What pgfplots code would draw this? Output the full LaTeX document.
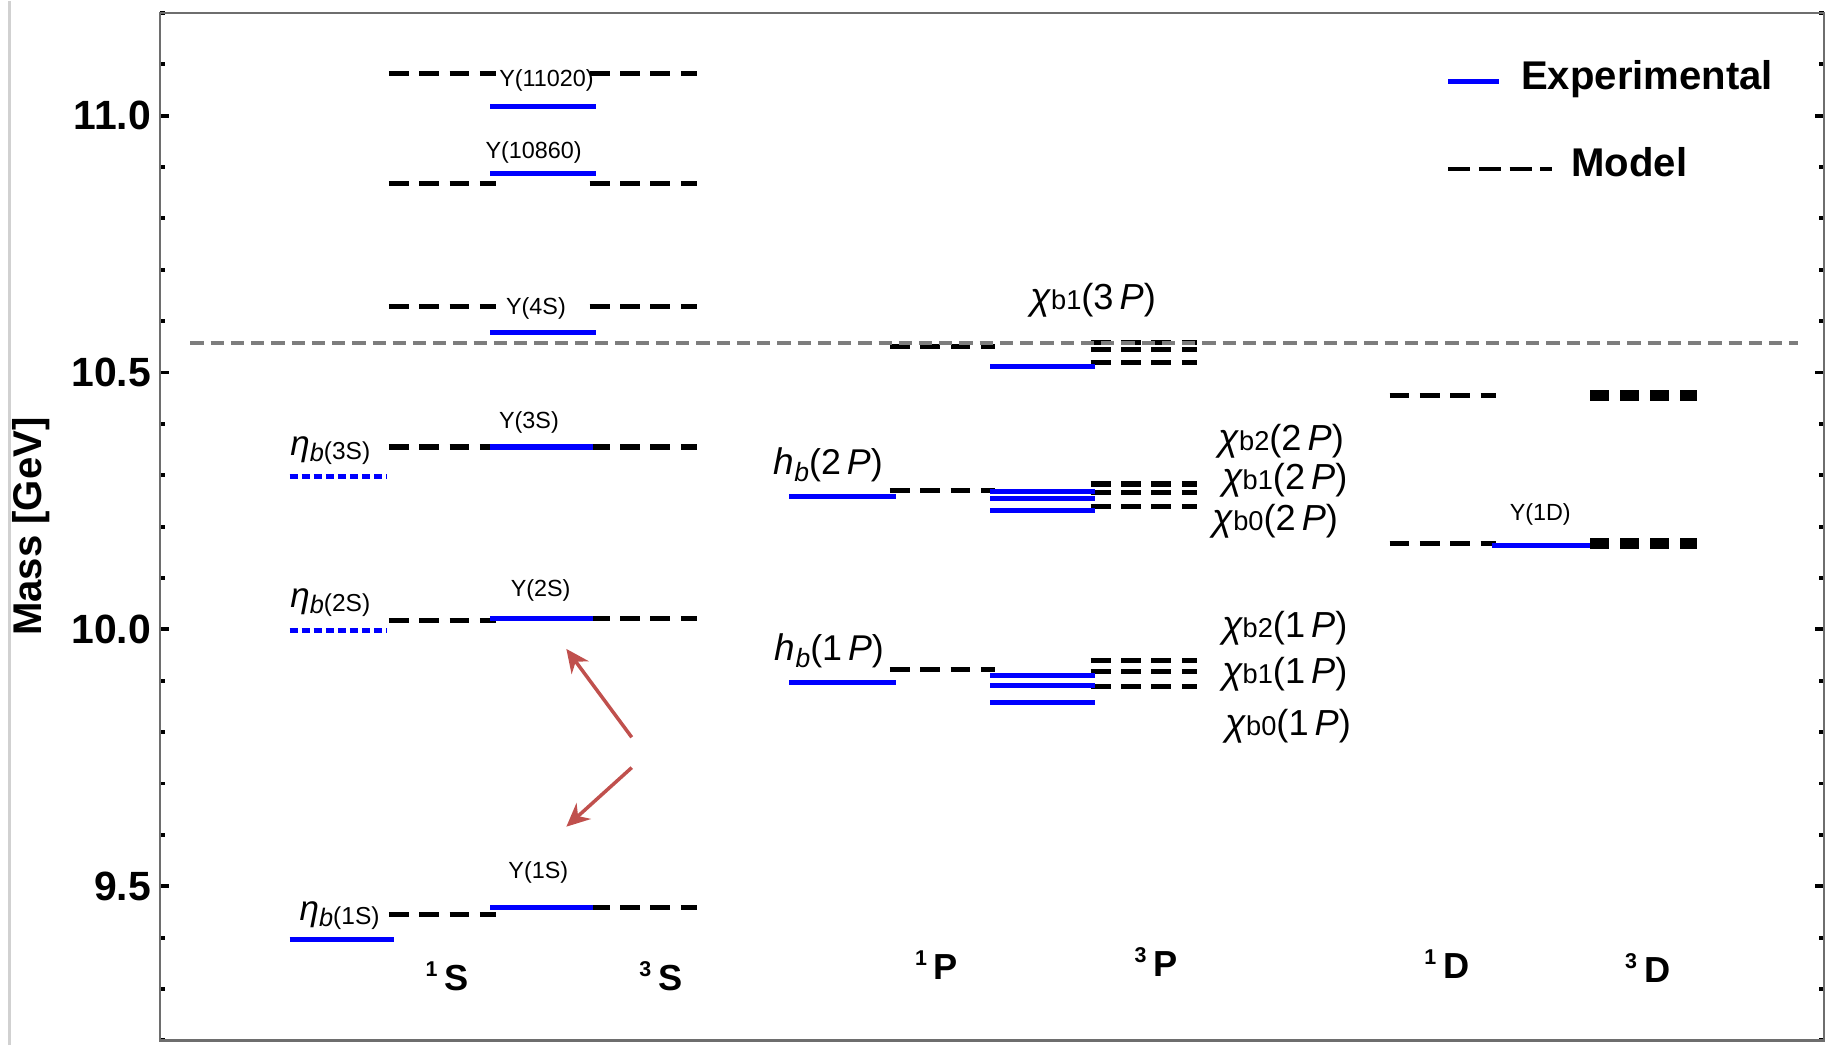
\documentclass[border=0pt]{standalone}
\usepackage{fontspec}
\setmainfont{Liberation Sans}
\usepackage{pgfplots}
\pgfplotsset{compat=1.18}
\usetikzlibrary{arrows.meta,calc}
\definecolor{expblue}{RGB}{0,0,255}
\definecolor{arrowred}{RGB}{192,80,77}
\definecolor{thrgray}{RGB}{125,125,125}
\definecolor{axgray}{RGB}{110,110,110}

\pgfplotsset{
  expl/.style={expblue, line width=1.3pt, forget plot},
  expd/.style={expblue, line width=1.3pt, dash pattern=on 2.1pt off 1pt, forget plot},
  modl/.style={black, line width=1.3pt, dash pattern=on 5.1pt off 2.7pt, forget plot},
  modt/.style={black, line width=3pt, dash pattern=on 4.8pt off 2.9pt, forget plot},
}
\newcommand{\ups}[1]{{\fontsize{6}{7}\selectfont Υ(#1)}}
\newcommand{\etab}[1]{{\fontsize{9}{10}\selectfont\itshape η}\raisebox{-1.5pt}{\fontsize{6.5}{7}\selectfont\itshape b}\raisebox{-1pt}{\fontsize{6.3}{7}\selectfont(#1)}}
\newcommand{\hb}[1]{{\fontsize{9.5}{10}\selectfont\itshape h}\raisebox{-1.8pt}{\fontsize{6.8}{7}\selectfont\itshape b}{\fontsize{9.2}{10}\selectfont(#1\,\textit{P})}}
\newcommand{\chib}[2]{{\fontsize{9.6}{10}\selectfont\itshape χ}{\fontsize{7}{8}\selectfont b#1}{\fontsize{9.3}{10}\selectfont(#2\,\textit{P})}}
\newcommand{\term}[2]{{\bfseries\raisebox{3.6pt}{\fontsize{5.5}{6}\selectfont #1}\hspace{1.8pt}{\fontsize{9.3}{10}\selectfont #2}}}

\begin{document}
\begin{tikzpicture}
\begin{axis}[
  scale only axis,
  width=427.5pt, height=264pt,
  xmin=137, xmax=1562, ymin=9.2, ymax=11.2,
  xtick=\empty,
  ytick={9.5,10,10.5,11},
  minor ytick={9.2,9.3,9.4,9.6,9.7,9.8,9.9,10.1,10.2,10.3,10.4,10.6,10.7,10.8,10.9,11.1,11.2},
  /pgf/number format/assume math mode=true,
  yticklabel style={font=\bfseries\fontsize{10.5}{12}\selectfont, xshift=1.2pt,
    /pgf/number format/fixed, /pgf/number format/precision=1,
    /pgf/number format/fixed zerofill},
  tick align=inside,
  major tick length=2.4pt, minor tick length=1.3pt,
  tick style={black, line width=1pt},
  axis line style={axgray, line width=0.6pt},
  ylabel={Mass [GeV]},
  ylabel style={font=\bfseries\fontsize{10.3}{12}\selectfont, at={(axis description cs:-0.0772,0.5)}, anchor=center},
  clip=false,
]
% ---------- 1S column (eta_b) ----------
\addplot[modl] coordinates {(333,9.445) (425,9.445)};
\addplot[modl] coordinates {(333,10.018) (425,10.018)};
\addplot[modl] coordinates {(333,10.355) (425,10.355)};
\addplot[modl] coordinates {(333,10.628) (425,10.628)};
\addplot[modl] coordinates {(333,10.867) (425,10.867)};
\addplot[modl] coordinates {(333,11.082) (425,11.082)};
\addplot[expl] coordinates {(248,9.397) (337,9.397)};
\addplot[expd] coordinates {(248,9.998) (331,9.998)};
\addplot[expd] coordinates {(248,10.298) (331,10.298)};
% ---------- 3S column (Upsilon) ----------
\addplot[modl] coordinates {(505,9.459) (597,9.459)};
\addplot[modl] coordinates {(505,10.022) (597,10.022)};
\addplot[modl] coordinates {(505,10.355) (597,10.355)};
\addplot[modl] coordinates {(505,10.629) (597,10.629)};
\addplot[modl] coordinates {(505,10.867) (597,10.867)};
\addplot[modl] coordinates {(505,11.082) (597,11.082)};
\addplot[expl] coordinates {(420,9.459) (508,9.459)};
\addplot[expl] coordinates {(420,10.022) (508,10.022)};
\addplot[expl] coordinates {(420,10.355) (508,10.355)};
\addplot[expl] coordinates {(420,10.578) (510,10.578)};
\addplot[expl] coordinates {(420,10.888) (510,10.888)};
\addplot[expl] coordinates {(420,11.017) (510,11.017)};
% ---------- 1P column (h_b) ----------
\addplot[modl] coordinates {(762,9.922) (852,9.922)};
\addplot[modl] coordinates {(762,10.270) (852,10.270)};
\addplot[modl] coordinates {(762,10.550) (852,10.550)};
\addplot[expl] coordinates {(676,9.897) (767,9.897)};
\addplot[expl] coordinates {(676,10.258) (767,10.258)};
% ---------- 3P column (chi_b) ----------
\addplot[modl] coordinates {(934,9.939) (1025,9.939)};
\addplot[modl] coordinates {(934,9.918) (1025,9.918)};
\addplot[modl] coordinates {(934,9.889) (1025,9.889)};
\addplot[modl] coordinates {(934,10.283) (1025,10.283)};
\addplot[modl] coordinates {(934,10.266) (1025,10.266)};
\addplot[modl] coordinates {(934,10.240) (1025,10.240)};
\addplot[modl] coordinates {(934,10.559) (1025,10.559)};
\addplot[modl] coordinates {(934,10.544) (1025,10.544)};
\addplot[modl] coordinates {(934,10.519) (1025,10.519)};
\addplot[expl] coordinates {(848,9.911) (938,9.911)};
\addplot[expl] coordinates {(848,9.891) (938,9.891)};
\addplot[expl] coordinates {(848,9.857) (938,9.857)};
\addplot[expl] coordinates {(848,10.268) (938,10.268)};
\addplot[expl] coordinates {(848,10.255) (938,10.255)};
\addplot[expl] coordinates {(848,10.231) (938,10.231)};
\addplot[expl] coordinates {(848,10.512) (938,10.512)};
% ---------- D columns ----------
\addplot[modl] coordinates {(1190,10.455) (1281,10.455)};
\addplot[modl] coordinates {(1190,10.167) (1281,10.167)};
\addplot[modt] coordinates {(1362,10.455) (1453,10.455)};
\addplot[modt] coordinates {(1362,10.167) (1453,10.167)};
\addplot[expl] coordinates {(1278,10.163) (1362,10.163)};
% ---------- open-bottom threshold ----------
\addplot[thrgray, line width=1pt, dash pattern=on 3.4pt off 1.8pt, forget plot] coordinates {(163,10.558) (1540,10.558)};
% ---------- legend ----------
\addplot[expl] coordinates {(1240,11.066) (1284,11.066)};
\addplot[black, line width=1.2pt, dash pattern=on 5.7pt off 2.2pt, forget plot] coordinates {(1240,10.896) (1329,10.896)};
\node[anchor=base west, inner sep=0pt, font=\bfseries\fontsize{10.3}{12}\selectfont] at (axis cs:1302,11.050) {Experimental};
\node[anchor=base west, inner sep=0pt, font=\bfseries\fontsize{10.3}{12}\selectfont] at (axis cs:1345,10.882) {Model};
% ---------- arrows ----------
\draw[arrowred, line width=0.9pt, -{Stealth[length=6pt,width=5.5pt]}] (axis cs:541,9.790) -- (axis cs:485,9.962);
\draw[arrowred, line width=0.9pt, -{Stealth[length=6pt,width=5.5pt]}] (axis cs:541,9.731) -- (axis cs:485,9.616);
% ---------- Upsilon labels ----------
\node[inner sep=0pt] at (axis cs:468,11.068) {\ups{11020}};
\node[inner sep=0pt] at (axis cs:457,10.929) {\ups{10860}};
\node[inner sep=0pt] at (axis cs:459,10.625) {\ups{4S}};
\node[inner sep=0pt] at (axis cs:453,10.402) {\ups{3S}};
\node[inner sep=0pt] at (axis cs:463,10.075) {\ups{2S}};
\node[inner sep=0pt] at (axis cs:461,9.526) {\ups{1S}};
\node[inner sep=0pt] at (axis cs:1319,10.223) {\ups{1D}};
% ---------- eta_b, h_b, chi_b labels ----------
\node[anchor=base west, inner sep=0pt] at (axis cs:248,10.338) {\etab{3S}};
\node[anchor=base west, inner sep=0pt] at (axis cs:248,10.043) {\etab{2S}};
\node[anchor=base west, inner sep=0pt] at (axis cs:256,9.434) {\etab{1S}};
\node[anchor=base west, inner sep=0pt] at (axis cs:662,10.301) {\hb{2}};
\node[anchor=base west, inner sep=0pt] at (axis cs:663,9.939) {\hb{1}};
\node[anchor=base west, inner sep=0pt] at (axis cs:882,10.623) {\chib{1}{3}};
\node[anchor=base west, inner sep=0pt] at (axis cs:1043,10.348) {\chib{2}{2}};
\node[anchor=base west, inner sep=0pt] at (axis cs:1046,10.272) {\chib{1}{2}};
\node[anchor=base west, inner sep=0pt] at (axis cs:1038,10.193) {\chib{0}{2}};
\node[anchor=base west, inner sep=0pt] at (axis cs:1046,9.984) {\chib{2}{1}};
\node[anchor=base west, inner sep=0pt] at (axis cs:1046,9.894) {\chib{1}{1}};
\node[anchor=base west, inner sep=0pt] at (axis cs:1049,9.794) {\chib{0}{1}};
% ---------- term labels ----------
\node[anchor=base, inner sep=0pt] at (axis cs:383,9.298) {\term{1}{S}};
\node[anchor=base, inner sep=0pt] at (axis cs:566,9.298) {\term{3}{S}};
\node[anchor=base, inner sep=0pt] at (axis cs:802,9.319) {\term{1}{P}};
\node[anchor=base, inner sep=0pt] at (axis cs:990,9.325) {\term{3}{P}};
\node[anchor=base, inner sep=0pt] at (axis cs:1239,9.320) {\term{1}{D}};
\node[anchor=base, inner sep=0pt] at (axis cs:1411,9.313) {\term{3}{D}};
\coordinate (SW) at (rel axis cs:0,0);
\coordinate (NE) at (rel axis cs:1,1);
\end{axis}
\pgfresetboundingbox
\path ($(SW)+(-41.1pt,-1.2pt)$) rectangle ($(NE)+(1.8pt,3pt)$);
\draw[black!18, line width=0.6pt] ($(SW)+(-38.7pt,-1.2pt)$) -- ($(SW|-NE)+(-38.7pt,3pt)$);
\end{tikzpicture}
\end{document}
